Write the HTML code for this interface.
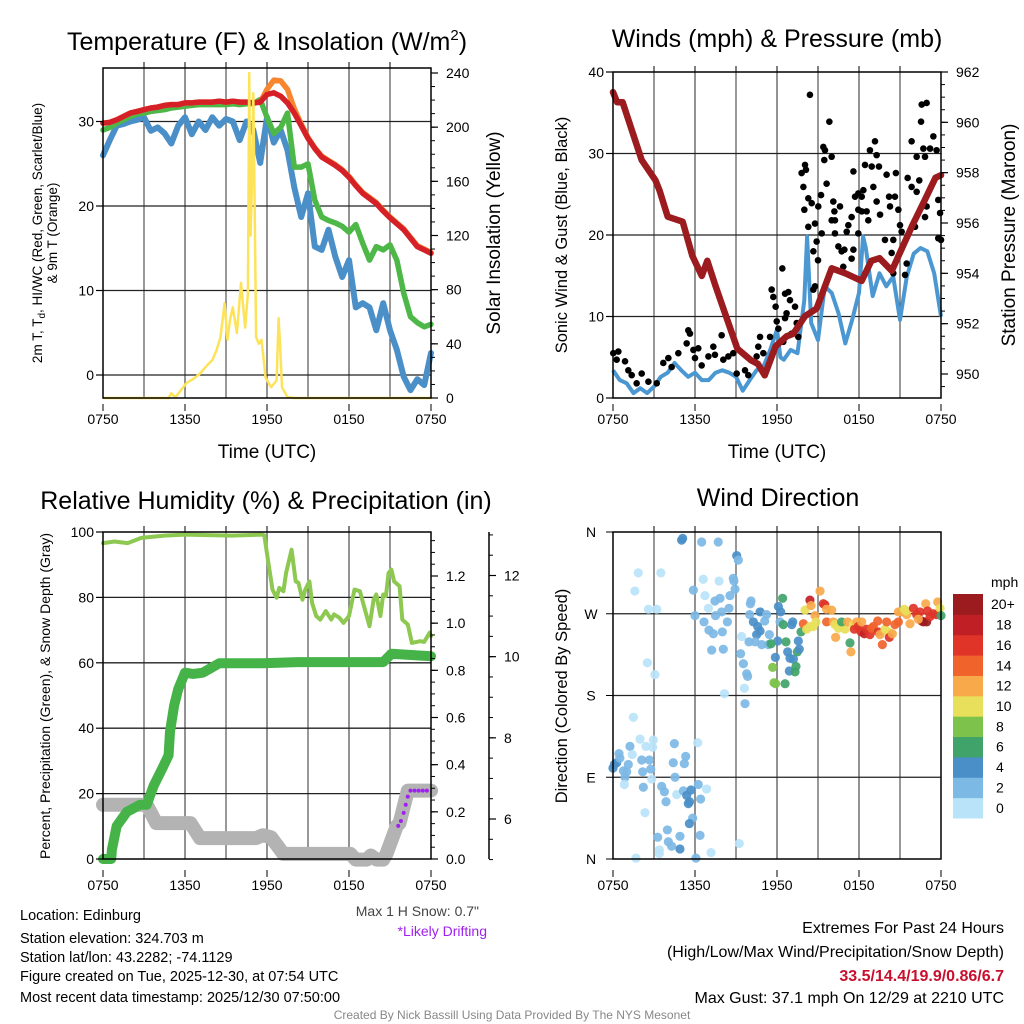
<!DOCTYPE html>
<html><head><meta charset="utf-8">
<style>
html,body{margin:0;padding:0;background:#fff;}
svg{display:block;font-family:"Liberation Sans",Arial,sans-serif;}
</style></head>
<body>
<svg id="c" width="1024" height="1024" viewBox="0 0 1024 1024" xmlns="http://www.w3.org/2000/svg">
<g id="bg"></g>
<!-- titles -->
<text x="267" y="50" font-size="25" text-anchor="middle">Temperature (F) &amp; Insolation (W/m<tspan dy="-10" font-size="15">2</tspan><tspan dy="10">)</tspan></text>
<text x="777" y="47" font-size="25" text-anchor="middle">Winds (mph) &amp; Pressure (mb)</text>
<text x="266" y="509" font-size="25" text-anchor="middle">Relative Humidity (%) &amp; Precipitation (in)</text>
<text x="778" y="506" font-size="25" text-anchor="middle">Wind Direction</text>
<!-- axis titles -->
<text transform="translate(42,233) rotate(-90)" font-size="13.5" text-anchor="middle">2m T, T<tspan dy="3" font-size="10">d</tspan><tspan dy="-3">, HI/WC (Red, Green, Scarlet/Blue)</tspan></text>
<text transform="translate(57,233) rotate(-90)" font-size="13.5" text-anchor="middle">&amp; 9m T (Orange)</text>
<text transform="translate(500,233) rotate(-90)" font-size="19" text-anchor="middle">Solar Insolation (Yellow)</text>
<text x="267" y="458" font-size="19" text-anchor="middle">Time (UTC)</text>
<text transform="translate(567,235) rotate(-90)" font-size="16.5" text-anchor="middle">Sonic Wind &amp; Gust (Blue, Black)</text>
<text transform="translate(1015,235) rotate(-90)" font-size="19" text-anchor="middle">Station Pressure (Maroon)</text>
<text x="777" y="458" font-size="19" text-anchor="middle">Time (UTC)</text>
<text transform="translate(50,696) rotate(-90)" font-size="14" text-anchor="middle">Percent, Precipitation (Green), &amp; Snow Depth (Gray)</text>
<text transform="translate(567,696) rotate(-90)" font-size="16.5" text-anchor="middle">Direction (Colored By Speed)</text>
<!-- notes -->
<text x="479" y="916" font-size="14" fill="#444" text-anchor="end">Max 1 H Snow: 0.7"</text>
<text x="487" y="936" font-size="14" fill="#a020f0" text-anchor="end">*Likely Drifting</text>
<g font-size="14.5">
<text x="20" y="920">Location: Edinburg</text>
<text x="20" y="943">Station elevation: 324.703 m</text>
<text x="20" y="962">Station lat/lon: 43.2282; -74.1129</text>
<text x="20" y="981">Figure created on Tue, 2025-12-30, at 07:54 UTC</text>
<text x="20" y="1002">Most recent data timestamp: 2025/12/30 07:50:00</text>
</g>
<g font-size="16" text-anchor="end">
<text x="1004" y="933">Extremes For Past 24 Hours</text>
<text x="1004" y="957">(High/Low/Max Wind/Precipitation/Snow Depth)</text>
<text x="1004" y="981" fill="#c8102e" font-weight="bold">33.5/14.4/19.9/0.86/6.7</text>
<text x="1004" y="1003">Max Gust: 37.1 mph On 12/29 at 2210 UTC</text>
</g>
<text x="512" y="1019" font-size="12" fill="#888" text-anchor="middle">Created By Nick Bassill Using Data Provided By The NYS Mesonet</text>
<g id="plots"></g>
</svg>
<script>
// ---------- shared ----------
const timeLabels = ["0750","1350","1950","0150","0750"];
// ---------- panel 1 data ----------
const tHours = [0,0.5,1,1.5,2,2.5,3,3.5,4,4.5,5,5.5,6,6.5,7,7.5,8,8.5,9,9.5,10,10.5,11,11.5,12,12.5,13,13.5,14,14.5,15,15.5,16,16.5,17,17.5,18,18.5,19,19.5,20,20.5,21,21.5,22,22.5,23,23.5,24];
const tempRed = [29.8,29.9,30.2,30.6,31,31.2,31.4,31.6,31.7,31.9,32,32,32.2,32.2,32.3,32.3,32.3,32.4,32.3,32.4,32.3,32.3,32.2,32.3,33.2,33.4,33,32.2,31,29.5,28,26.8,25.8,25.3,24.8,24.2,23.4,22.4,21.5,20.9,20.3,19.4,18.6,17.9,17.2,16.2,15.2,14.8,14.4];
const temp9m = [29.8,29.9,30.2,30.6,31,31.2,31.4,31.6,31.7,31.9,32,32,32.2,32.2,32.3,32.3,32.3,32.4,32.3,32.4,32.3,32.3,32.2,32.3,33.8,34.9,34.8,33.8,31.5,29.7,28.1,26.9,25.9,25.4,24.9,24.3,23.5,22.5,21.6,21,20.4,19.5,18.7,18,17.3,16.3,15.3,14.9,14.5];
const dewGreen = [29,29.3,29.8,30.2,30.6,30.9,31,31.2,31.3,31.4,31.6,31.7,31.8,31.9,32,32,32,32,32,32.1,32,32.1,32.1,32.6,30.5,28.6,29.3,31,24.6,24.6,25,20.7,18.7,18.3,18,17.6,16.9,17.8,15.6,13.6,15.2,14.8,15.4,13.6,9.7,6.9,6.2,5.7,6];
const chillBlue = [26,27.8,29.5,29.7,30,30.2,30.5,28.9,29.3,28.6,27.4,29.5,30.5,28.5,30,29,30.5,29.5,30.3,30,27.8,30,29,25.1,30.5,27.5,29,26.6,22.2,18.7,21.5,15.2,14.8,17.2,14,11.6,13.6,8,8.5,8,5.3,8.5,5.3,3,-0.2,-1.8,-0.5,-1.2,2.6];
const solarHours = [0,4.8,5.0,5.3,6.1,6.6,7.1,7.6,8.0,8.3,8.6,8.9,9.1,9.3,9.5,9.8,10.1,10.4,10.6,10.7,10.8,10.9,11.0,11.1,11.2,11.4,11.6,11.9,12.3,12.7,12.85,12.95,13.1,13.5,14,24];
const solarVals = [0,0,3.5,0.5,11,14,18,24,28,35,45,70,43,58,67,48,85,52,77,240,120,160,225,140,45,40,43,15,8,13,59,40,8,0.7,0,0];
// ---------- panel 2 data ----------
const windHours = [0,0.5,1,1.5,2,2.5,3,3.5,4,4.5,5,5.5,6,6.5,7,7.5,8,8.5,9,9.5,10,10.5,11,11.5,12,12.25,12.5,13,13.5,14,14.2,14.5,15,15.5,16,16.5,17,17.5,18,18.3,18.5,19,19.5,20,20.5,21,21.5,22,22.5,23,23.5,24];
const windVals = [3.4,2.2,1.8,0.6,1.2,0.6,1.4,2.6,3.1,4.3,3.4,2.6,3.1,2.2,2.2,3.1,3.4,3.1,2.6,0.9,2.2,3.4,3.8,5.9,8.4,5,4.7,5.9,5.5,12,19.8,9.2,7.1,13.7,12.9,10.4,6.7,9.6,12.9,19.8,18.4,12.5,15.3,13.7,14.9,9.6,14.9,17.7,18.4,18,15.3,10];
const presHours = [0,0.3,0.7,2.1,3.1,3.4,4.0,5.1,5.8,6.5,6.9,7.5,8.2,9.1,10.1,10.6,11.1,11.9,12.7,13.2,14.05,14.9,16,17,18.2,18.9,19.5,20.4,20.9,21.9,22.8,23.6,24];
const presVals = [961.2,960.8,960.8,958.5,957.7,957.3,956.25,956.05,954.7,953.9,954.5,953.5,952.4,951,950.55,950.4,949.95,951.1,951.5,951.6,952.3,952.6,954.2,954,953.7,954.5,954.6,954.1,954.7,955.9,956.9,957.8,957.9];
const gustHours = [0.02,0.39,0.27,0.88,1.12,1.37,1.73,2.1,2.59,3.2,3.68,4.05,4.29,4.78,5.39,5.51,5.63,5.88,6.24,6.0,6.49,6.98,7.34,7.46,7.95,8.07,8.44,8.8,9.05,9.66,9.9,10.51,10.63,10.76,11.0,11.49,11.61,11.73,11.9,11.98,12.1,12.39,12.59,12.7,12.83,12.59,12.95,13.32,13.44,13.07,13.56,12.46,
14.41,13.8,14.05,14.12,13.93,14.0,14.29,14.54,14.29,14.78,14.66,14.9,14.78,15.39,15.51,15.46,15.83,16.0,15.22,15.63,15.27,15.02,16.12,16.24,16.61,16.2,16.49,16.24,16.93,16.85,17.22,17.59,17.46,17.71,17.59,17.95,17.1,17.46,18.32,18.44,18.56,18.68,18.93,18.8,19.17,19.29,19.46,18.2,18.2,19.05,19.29,19.54,19.9,20.02,20.2,20.27,20.63,20.7,20.51,20.88,21.0,21.12,20.39,20.51,21.49,21.56,21.85,22.22,22.41,22.59,22.95,22.83,22.54,22.22,21.85,22.71,23.2,23.44,23.68,22.95,22.83,23.8,23.93,23.8,24.0,22.1,21.37,16.73,16.0,15.0,14.66,17.95,17.95];
const gustVals = [5.5,5.7,4.7,4.5,3.4,2.8,1.8,3.0,2.0,1.8,4.3,4.9,3.8,5.5,6.7,8.3,7.9,5.9,6.1,4.9,4.0,5.1,6.3,5.3,7.7,4.7,5.1,5.5,3.0,3.4,2.8,5.1,6.3,7.5,5.5,7.5,13.3,12.4,11.2,9.4,8.5,15.9,9.8,10.4,13.0,12.8,12.0,11.2,9.2,7.9,7.5,6.9,
37.2,27.6,28.6,28.0,25.9,23.1,24.5,23.9,21.0,21.4,18.0,19.2,13.7,30.8,30.4,29.2,33.9,29.6,24.9,26.3,20.2,23.5,24.1,21.8,23.5,22.9,18.6,20.2,18.2,16.1,21.2,18.2,22.2,24.7,27.8,20.2,20.4,17.1,25.5,28.6,22.9,21.8,28.4,30.4,31.5,29.8,28.4,24.7,22.9,25.9,24.1,22.5,19.4,27.4,24.7,23.5,24.7,27.6,19.4,23.1,21.2,20.4,17.8,15.3,16.5,27.0,25.9,25.3,26.7,36.0,36.2,29.6,33.9,29.6,31.5,30.6,30.6,32.1,30.4,23.5,22.2,24.3,22.7,19.6,19.4,21.0,15.1,18.0,21.8,16.9,13.3,23.1,25.1];
// ---------- panel 3 data ----------
const rhHours = [0,0.85,1.8,2.8,4.5,6.0,9.4,11.6,11.8,12.1,12.4,12.7,12.9,13.2,13.4,13.8,14.1,14.3,14.6,14.8,15.1,15.3,15.6,15.9,16.3,16.7,16.9,17.3,17.6,18.0,18.4,18.8,19.1,19.5,19.8,20.0,20.3,20.5,20.7,20.9,21.1,21.3,21.7,21.9,22.3,22.6,23.2,23.5,23.9,24];
const rhVals = [96.6,97.1,96.6,98.2,98.9,99.2,98.9,99.2,99,90.5,82.4,79.9,82.9,81.9,87.5,94.6,84.9,84.5,79.3,82.4,84.9,78.3,74.3,73.2,75.8,73.2,74.8,73.8,72.2,74.3,82.4,81.9,77.3,71.2,79.3,80.9,74.3,80.9,80.4,87.5,88.5,84.9,83.4,73.2,71.7,66.1,66.6,66.4,69.2,68.2];
const precipHours = [0,0.6,0.65,1.0,1.75,2.7,3.2,3.7,4.3,4.8,4.9,5.2,5.5,6.0,6.6,7.3,7.9,8.5,11.7,14.2,20.5,21.1,24];
const precipVals = [0,0,0.04,0.14,0.2,0.23,0.23,0.31,0.38,0.44,0.54,0.65,0.72,0.79,0.785,0.79,0.81,0.83,0.83,0.835,0.835,0.87,0.86];
const snowHours = [0,3.2,3.9,6.4,7.1,11.2,11.7,12.3,13.2,18.1,18.5,19.3,19.6,20.0,20.5,20.75,21.5,21.7,22.3,24];
const snowVals = [6.35,6.35,5.9,5.9,5.53,5.53,5.6,5.55,5.14,5.14,5.0,5.0,5.1,5.0,5.0,5.15,5.83,5.9,6.7,6.7];
const driftHours = [21.6,21.8,22.0,22.15,22.3,22.5,22.8,23.1,23.4,23.7];
const driftVals = [5.83,5.95,6.15,6.35,6.55,6.7,6.7,6.7,6.7,6.7];
// ---------- panel 4 data ----------
const dirHours = [5.02,5.1,6.49,7.7,1.85,3.5,1.6,2.59,3.2,5.88,6.6,7.76,8.8,8.85,8.93,9.05,9.17,6.73,6.98,7.46,7.83,8.56,8.49,7.95,7.5,6.0,6.66,7.02,7.34,8.0,8.37,7.22,8.07,9.41,9.34,9.54,9.78,9.85,9.61,9.66,8.15,2.51,3.07,10.1,10.05,10.0,10.27,10.76,10.59,10.76,10.51,11.24,11.1,11.44,10.88,9.95,10.4,11.37,12.1,12.27,12.41,12.22,12.46,12.05,11.56,12.66,11.68,11.78,11.9,12.59,11.88,12.78,12.95,13.2,12.9,13.32,13.39,13.49,13.63,13.56,13.76,13.15,13.08,
14.05,13.93,14.17,14.41,14.66,14.41,14.49,14.78,14.85,15.15,15.39,15.5,15.63,15.63,16.0,16.12,16.24,16.49,16.78,16.98,16.29,16.73,17.17,17.34,17.41,17.59,17.66,17.83,17.95,18.2,18.15,18.39,18.56,18.8,18.93,19.05,19.37,19.41,19.54,19.71,19.9,20.02,20.15,20.22,20.44,20.63,20.88,20.88,21.12,21.32,21.49,21.45,21.73,21.98,22.22,22.46,22.59,22.71,22.95,22.88,23.02,23.2,23.44,23.68,23.76,23.93,24.0,22.34,
1.49,0.1,0.27,0.44,0.5,0.76,1.0,1.12,0.88,1.24,1.41,1.98,2.41,2.95,2.9,2.1,2.66,2.17,2.76,2.83,0.83,2.22,2.34,4.49,5.32,4.41,5.22,4.54,3.56,3.76,3.88,4.66,5.15,5.39,5.71,5.51,5.6,6.24,6.85,6.41,5.83,5.59,3.98,3.27,4.9,4.05,4.29,4.9,3.39,3.39,6.37,7.17,9.24,6.07,1.68,6.2,0.0];
const dirDegs = [351,353,349,349,315,315,295,275,275,296,308,306,309,306,297,334,329,290,276,284,287,290,276,272,268,268,261,252,248,250,261,230,231,245,226,215,204,201,188,171,182,216,203,284,281,269,261,272,256,251,247,269,262,247,236,239,239,236,278,272,287,261,258,240,237,239,211,194,193,193,222,228,221,220,207,206,212,228,231,240,250,261,258,
274,259,253,256,256,285,279,268,261,295,281,280,275,261,274,261,258,254,257,253,244,261,261,238,228,258,253,261,256,261,250,248,253,247,254,256,262,250,247,236,253,261,250,244,248,258,261,272,272,275,269,273,259,276,269,272,262,261,261,281,273,267,270,269,283,276,268,264,
156,104,106,116,111,97,96,104,90,124,115,132,124,131,123,109,109,96,99,88,82,79,51,127,113,106,105,90,80,74,63,71,75,70,76,61,63,82,77,66,45,39,32,24,25,19,14,11,10,6,26,7,17,1,1,128,100];
const dirSpeeds = [5,5,3,3,1,1,1,1,1,3,1,1,3,3,3,5,3,1,1,3,3,3,3,3,3,3,3,3,3,3,3,3,3,1,3,3,3,3,1,3,1,1,1,3,3,3,5,5,5,5,5,3,3,3,3,3,3,3,5,5,6,3,6,5,6,6,8,8,8,6,5,5,5,5,5,6,6,6,5,5,6,5,5,
10,14,10,10,10,19,12,12,10,12,17,17,12,14,12,12,10,10,10,10,12,6,12,6,12,10,16,12,16,12,16,19,16,16,14,14,14,16,12,14,10,14,10,16,12,14,14,12,12,10,12,10,12,16,16,16,19,20,20,12,16,16,17,17,12,10,6,12,
1,5,5,3,3,3,3,3,3,3,1,1,1,1,1,3,3,3,3,1,1,3,1,3,3,3,3,3,3,3,3,1,3,5,5,5,5,3,1,3,3,5,3,3,3,3,3,5,1,1,3,1,1,3,1,1,5];
const speedLabels = ["0","2","4","6","8","10","12","14","16","18","20+"];
const speedColors = ["#b8e3f8","#7db9e5","#4a8fc8","#40a36a","#7dc24a","#e8e05a","#f8a94a","#f0632b","#e03428","#c01f26","#9b1b1e"];

// ---------- rendering ----------
const NS = "http://www.w3.org/2000/svg";
const plots = document.getElementById("plots");
function el(tag, attrs, parent){
  const e = document.createElementNS(NS, tag);
  for (const k in attrs) e.setAttribute(k, attrs[k]);
  (parent||plots).appendChild(e);
  return e;
}
function linear(d0,d1,r0,r1){ return v => r0 + (v-d0)/(d1-d0)*(r1-r0); }
function pathD(xs, ys, fx, fy){
  let d = "";
  for (let i=0;i<xs.length;i++) d += (i?"L":"M") + fx(xs[i]).toFixed(1) + "," + fy(ys[i]).toFixed(1);
  return d;
}
function frame(x0,y0,w,h,name,vgrid,hgridYs){
  const g = el("g",{});
  
  
  if (vgrid) for (let i=1;i<8;i++){
    const x = x0 + i*w/8;
    const gl = el("line",{x1:x,x2:x,y1:y0,y2:y0+h,stroke:(i%2? "#555":"#777"),"stroke-width":(i%2?1.2:1.6)},g);
    
    
    el("line",{x1:x,x2:x,y1:y0-6,y2:y0,stroke:"#000","stroke-width":1},g);
  }
  hgridYs.forEach(y=>{
    const gl = el("line",{x1:x0,x2:x0+w,y1:y,y2:y,stroke:"#222","stroke-width":1.3},g);
    
    
  });
  return g;
}
function border(x0,y0,w,h){
  const r = el("rect",{x:x0,y:y0,width:w,height:h,fill:"none",stroke:"#000","stroke-width":1.5});
  
  
}
function xLabels(x0,w,y){
  timeLabels.forEach((t,i)=>{
    const tx = el("text",{x:x0+i*w/4,y:y,"font-size":14,"text-anchor":"middle"});
    tx.textContent = t;
    
    
    el("line",{x1:x0+i*w/4,x2:x0+i*w/4,y1:y-20,y2:y-13,stroke:"#000"});
  });
}
function yTicks(vals, f, x, side, fmt, minorStep, lo, hi, fsz){
  vals.forEach(v=>{
    const y = f(v);
    el("line",{x1:x,x2:x+side*7,y1:y,y2:y,stroke:"#000","stroke-width":1.2});
    const tx = el("text",{x:x+side*(side>0?15:9),y:y+5,"font-size":fsz||14,"text-anchor":side>0?"start":"end"});
    tx.textContent = fmt(v);
    
    
  });
  if (minorStep) for (let v=lo; v<=hi+1e-9; v+=minorStep){
    const y=f(v); el("line",{x1:x,x2:x+side*4,y1:y,y2:y,stroke:"#000","stroke-width":1});
  }
}

// ===== Panel 1 =====
(function(){
  const X0=103,Y0=68,W=328,H=330;
  const fx = linear(0,24,X0,X0+W);
  const fyT = linear(0,10,375,290.5);
  const fyS = linear(0,240,398,73);
  frame(X0,Y0,W,H,"temperature-panel",true,[0,10,20,30].map(fyT));
  let p;
  p = el("path",{d:pathD(tHours,chillBlue,fx,fyT),fill:"none",stroke:"#4a8fc8","stroke-width":6,"stroke-linejoin":"round","stroke-linecap":"round"});
  
  
  p = el("path",{d:pathD(tHours,dewGreen,fx,fyT),fill:"none",stroke:"#4db848","stroke-width":5.5,"stroke-linejoin":"round","stroke-linecap":"round"});
  
  
  p = el("path",{d:pathD(tHours,temp9m,fx,fyT),fill:"none",stroke:"#f7862f","stroke-width":5.5,"stroke-linejoin":"round","stroke-linecap":"round"});
  
  
  p = el("path",{d:pathD(tHours,tempRed,fx,fyT),fill:"none",stroke:"#d62028","stroke-width":5.5,"stroke-linejoin":"round","stroke-linecap":"round"});
  
  
  p = el("path",{d:pathD(solarHours,solarVals,fx,fyS),fill:"none",stroke:"#fde35a","stroke-width":2.5,"stroke-linejoin":"round"});
  
  
  border(X0,Y0,W,H);
  yTicks([0,10,20,30],fyT,X0,-1,v=>String(v),null);
  yTicks([0,40,80,120,160,200,240],fyS,X0+W,1,v=>String(v),10,0,240);
  xLabels(X0,W,424);
})();

// ===== Panel 2 =====
(function(){
  const X0=613,Y0=72,W=328,H=326;
  const fx = linear(0,24,X0,X0+W);
  const fyW = linear(0,40,398,72);
  const fyP = linear(950,962,374,72);
  frame(X0,Y0,W,H,"wind-panel",true,[10,20,30].map(fyW));
  let p = el("path",{d:pathD(windHours,windVals,fx,fyW),fill:"none",stroke:"#4a97d2","stroke-width":4,"stroke-linejoin":"round"});
  
  
  const gg = el("g",{});
  
  
  for (let i=0;i<gustHours.length;i++){
    const c = el("circle",{cx:fx(gustHours[i]),cy:fyW(gustVals[i]),r:3.3,fill:"#000"},gg);
    
    
  }
  p = el("path",{d:pathD(presHours,presVals,fx,fyP),fill:"none",stroke:"#9b1b1e","stroke-width":6.5,"stroke-linejoin":"round","stroke-linecap":"round"});
  
  
  border(X0,Y0,W,H);
  yTicks([0,10,20,30,40],fyW,X0,-1,v=>String(v),null);
  yTicks([950,952,954,956,958,960,962],fyP,X0+W,1,v=>String(v),0.5,949.5,962);
  xLabels(X0,W,424);
})();

// ===== Panel 3 =====
(function(){
  const X0=103,Y0=532,W=328,H=327;
  const fx = linear(0,24,X0,X0+W);
  const fyR = linear(0,100,859,532);
  const fyP = linear(0,1.2,859,576);
  const fyS = linear(6,12,819,575.5);
  frame(X0,Y0,W,H,"humidity-panel",true,[20,40,60,80].map(fyR));
  let p = el("path",{d:pathD(snowHours,snowVals,fx,fyS),fill:"none",stroke:"#b3b3b3","stroke-width":14,"stroke-linejoin":"round","stroke-linecap":"round"});
  
  
  const dg = el("g",{});
  
  
  for (let i=0;i<driftHours.length;i++){
    const c = el("circle",{cx:fx(driftHours[i]),cy:fyS(driftVals[i]),r:2,fill:"#a020f0"},dg);
    
    
  }
  p = el("path",{d:pathD(precipHours,precipVals,fx,fyP),fill:"none",stroke:"#45b348","stroke-width":10,"stroke-linejoin":"round","stroke-linecap":"round"});
  
  
  p = el("path",{d:pathD(rhHours,rhVals,fx,fyR),fill:"none",stroke:"#8dc850","stroke-width":4,"stroke-linejoin":"round","stroke-linecap":"round"});
  
  
  border(X0,Y0,W,H);
  yTicks([0,20,40,60,80,100],fyR,X0,-1,v=>String(v),null);
  yTicks([0,0.2,0.4,0.6,0.8,1.0,1.2],fyP,X0+W,1,v=>v.toFixed(1),0.05,0,1.35);
  const sx = 489;
  const ax = el("line",{x1:sx,x2:sx,y1:532,y2:859,stroke:"#000","stroke-width":1.5});
  
  
  yTicks([6,8,10,12],fyS,sx,1,v=>String(v),0.5,5,13);
  xLabels(X0,W,890);
})();

// ===== Panel 4 =====
(function(){
  const X0=613,Y0=532,W=328,H=327;
  const fx = linear(0,24,X0,X0+W);
  const fy = linear(0,360,859,532);
  frame(X0,Y0,W,H,"wind-direction-panel",true,[90,180,270].map(fy));
  const dg = el("g",{});
  
  
  for (let i=0;i<dirHours.length;i++){
    const bin = Math.min(10, Math.floor(dirSpeeds[i]/2));
    const c = el("circle",{cx:fx(dirHours[i]),cy:fy(dirDegs[i]),r:4.6,fill:speedColors[bin],"fill-opacity":0.92},dg);
    
    
  }
  border(X0,Y0,W,H);
  ["N","E","S","W","N"].forEach((lab,i)=>{
    const y = fy(i*90);
    el("line",{x1:X0,x2:X0-7,y1:y,y2:y,stroke:"#000"});
    const tx = el("text",{x:591,y:y+5,"font-size":14,"text-anchor":"middle"});
    tx.textContent = lab;
    
    
  });
  xLabels(X0,W,890);
  // colorbar
  const cb = el("g",{});
  
  
  const bh = (818-594)/11;
  for (let i=0;i<11;i++){
    const y = 818 - (i+1)*bh;
    const r = el("rect",{x:953,y:y,width:30,height:bh+0.5,fill:speedColors[i]},cb);
    
    
    const tx = el("text",{x:i===10?991:996,y:y+bh/2+5,"font-size":14},cb);
    tx.textContent = speedLabels[i];
    
    
  }
  const t = el("text",{x:991,y:587,"font-size":14},cb);
  t.textContent = "mph";
  
  
})();
</script>
</body></html>
